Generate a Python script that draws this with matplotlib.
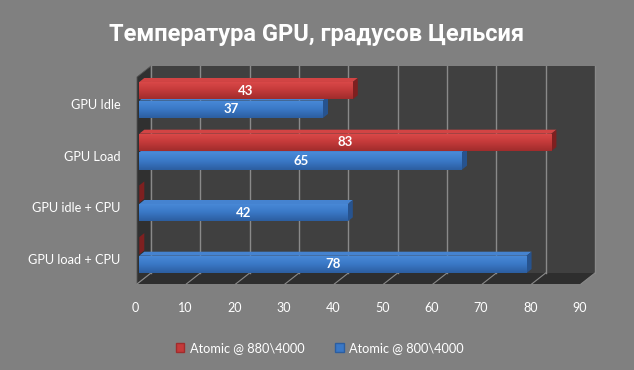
import numpy as np
import matplotlib
matplotlib.use("Agg")
import matplotlib.pyplot as plt
from matplotlib.patches import Polygon, Patch

categories = ["GPU Idle", "GPU Load", "GPU idle + CPU", "GPU load + CPU"]
series_names = ["Atomic @ 880\\4000", "Atomic @ 800\\4000"]
red_vals = [43, 83, 0, 0]
blue_vals = [37, 65, 42, 78]
xticks = list(range(0, 100, 10))
title = "Температура GPU, градусов Цельсия"

W, H, DPI = 634, 370, 100
BG = "#808080"
WALL = "#404040"
FLOOR = "#2e2e2e"
SIDE = "#303030"
GRID = "#8a8a8a"

# colors: front mid, top light, bottom dark, side face, top face
RED = dict(front="#c43a3a", light="#dc4a4a", dark="#a02c2c", side="#7e2020", top="#d24444")
BLUE = dict(front="#3a78c6", light="#4a8ad8", dark="#2c5ea0", side="#27538e", top="#4583d0")

plt.rcParams["font.family"] = ["Lato", "DejaVu Sans"]

fig = plt.figure(figsize=(W / DPI, H / DPI), dpi=DPI, facecolor=BG)


def px_box(left, top, right, bottom):
    return [left / W, 1 - bottom / H, (right - left) / W, (bottom - top) / H]


# frame axes = front plane of the 3D box
ax = fig.add_axes(px_box(137, 77, 581, 284))
ax.set_xlim(0, 90)
ax.set_ylim(0, 1)
ax.axis("off")
fw, fh = 444, 207
dxw = 14 / (fw / 90)
dyw = 11 / fh

ax.add_patch(Polygon([(dxw, dyw), (90 + dxw, dyw), (90 + dxw, 1 + dyw), (dxw, 1 + dyw)],
                     closed=True, facecolor=WALL, edgecolor="none", clip_on=False, zorder=1))
ax.add_patch(Polygon([(0, 0), (90, 0), (90 + dxw, dyw), (dxw, dyw)],
                     closed=True, facecolor=FLOOR, edgecolor="none", clip_on=False, zorder=1))
ax.add_patch(Polygon([(0, 0), (0, 1), (dxw, 1 + dyw), (dxw, dyw)],
                     closed=True, facecolor=SIDE, edgecolor="#555555", lw=0.6,
                     clip_on=False, zorder=1))
for t in xticks:
    ax.plot([t + dxw, t + dxw], [dyw, 1 + dyw], color=GRID, lw=1.0, clip_on=False, zorder=2)
    ax.plot([t, t + dxw], [0, dyw], color=GRID, lw=0.8, clip_on=False, zorder=2)
    ax.text(t - 0.3, -24 / fh, str(t), ha="center", va="center", color="white", fontsize=9)

# bar axes (bars sit slightly behind the front plane)
bw = 4.965 * 90
bx = fig.add_axes(px_box(139.3, 74.1, 139.3 + bw, 74.1 + 4 * 51.7))
bx.set_facecolor("none")
for s in bx.spines.values():
    s.set_visible(False)
bx.set_xticks([])
dxb = 5 / (bw / 90)
dyb = 4 / 51.7
h = 0.335
grad = np.linspace(0, 1, 64).reshape(-1, 1)


def draw_bars(vals, offset, col):
    cmap = matplotlib.colors.LinearSegmentedColormap.from_list(
        "g", [col["light"], col["front"], col["dark"]])
    ypos = np.arange(len(vals)) + offset
    bars = bx.barh(ypos, vals, height=h, color=col["front"], edgecolor="none", zorder=3)
    for b, v, y in zip(bars, vals, ypos):
        top, bot = y - h / 2, y + h / 2
        bx.add_patch(Polygon([(0, top), (v, top), (v + dxb, top - dyb), (dxb, top - dyb)],
                             closed=True, facecolor=col["top"], edgecolor="none", zorder=3))
        bx.add_patch(Polygon([(v, top), (v, bot), (v + dxb, bot - dyb), (v + dxb, top - dyb)],
                             closed=True, facecolor=col["side"], edgecolor="none", zorder=3))
        if v > 0:
            im = bx.imshow(grad, extent=[0, v, bot, top], cmap=cmap, aspect="auto",
                           interpolation="bilinear", zorder=3.5)
            im.set_clip_path(b)
            bx.text(v / 2, y, str(v), ha="center", va="center", color="white",
                    fontsize=9.5, fontweight="bold", zorder=5)
    return bars


draw_bars(blue_vals, 0.18, BLUE)
draw_bars(red_vals, -0.18, RED)
bx.set_xlim(0, 90)
bx.set_ylim(len(categories) - 0.5, -0.5)

bx.set_yticks(np.arange(len(categories)) + 0.08)
bx.set_yticklabels(categories, color="white", fontsize=9.2)
bx.tick_params(axis="y", length=0, pad=13.7)

fig.text(0.5, 1 - 34 / H, title, ha="center", va="center", color="white",
         fontsize=17, fontweight="bold", family=["Roboto", "DejaVu Sans"])

handles = [Patch(facecolor=RED["front"], edgecolor=RED["dark"]),
           Patch(facecolor=BLUE["front"], edgecolor=BLUE["dark"])]
fig.legend(handles, series_names, loc="center", bbox_to_anchor=(0.504, 1 - 348 / H),
           ncol=2, frameon=False, fontsize=9.2, labelcolor="white",
           handlelength=0.7, handleheight=0.7, handletextpad=0.4, columnspacing=2.4)

fig.savefig("out.png", dpi=DPI, facecolor=BG)
